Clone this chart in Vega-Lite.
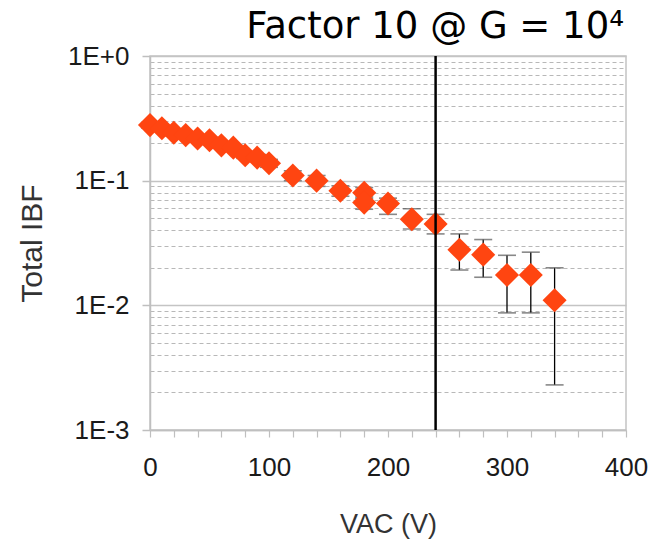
{
  "$schema": "https://vega.github.io/schema/vega-lite/v6.json",
  "width": 476,
  "height": 374,
  "autosize": {"type": "none"},
  "padding": {"left": 150, "top": 56, "right": 39, "bottom": 113},
  "background": "white",
  "title": {
    "text": "Factor 10 @ G = 10⁴",
    "anchor": "end",
    "frame": "group",
    "font": "DejaVu Sans",
    "fontSize": 37,
    "fontWeight": "normal",
    "color": "#000000",
    "baseline": "alphabetic",
    "offset": -32,
    "dx": -2
  },
  "config": {
    "view": {"stroke": "#c4c4c4", "strokeWidth": 1.5},
    "axis": {"labelFont": "Liberation Sans", "titleFont": "Liberation Sans", "labelOverlap": false},
    "axisX": {"labelOverlap": false}
  },
  "datasets": {
    "ibf": [
      {"v": 0, "ibf": 0.279, "lo": 0.265, "hi": 0.293},
      {"v": 10, "ibf": 0.263, "lo": 0.25, "hi": 0.276},
      {"v": 20, "ibf": 0.242, "lo": 0.23, "hi": 0.254},
      {"v": 30, "ibf": 0.232, "lo": 0.22, "hi": 0.244},
      {"v": 40, "ibf": 0.218, "lo": 0.207, "hi": 0.229},
      {"v": 50, "ibf": 0.211, "lo": 0.2, "hi": 0.222},
      {"v": 60, "ibf": 0.192, "lo": 0.182, "hi": 0.202},
      {"v": 70, "ibf": 0.184, "lo": 0.174, "hi": 0.194},
      {"v": 80, "ibf": 0.16, "lo": 0.151, "hi": 0.169},
      {"v": 90, "ibf": 0.153, "lo": 0.144, "hi": 0.162},
      {"v": 100, "ibf": 0.138, "lo": 0.128, "hi": 0.148},
      {"v": 120, "ibf": 0.11, "lo": 0.1, "hi": 0.12},
      {"v": 140, "ibf": 0.1, "lo": 0.09, "hi": 0.11},
      {"v": 160, "ibf": 0.083, "lo": 0.075, "hi": 0.091},
      {"v": 180, "ibf": 0.08, "lo": 0.072, "hi": 0.088},
      {"v": 180, "ibf": 0.0667, "lo": 0.059, "hi": 0.074},
      {"v": 200, "ibf": 0.0655, "lo": 0.0537, "hi": 0.0724},
      {"v": 220, "ibf": 0.049, "lo": 0.041, "hi": 0.0596},
      {"v": 240, "ibf": 0.045, "lo": 0.0374, "hi": 0.0537},
      {"v": 260, "ibf": 0.0279, "lo": 0.0192, "hi": 0.0374},
      {"v": 280, "ibf": 0.0255, "lo": 0.0168, "hi": 0.0337},
      {"v": 300, "ibf": 0.0175, "lo": 0.0087, "hi": 0.0252},
      {"v": 320, "ibf": 0.0175, "lo": 0.0087, "hi": 0.0267},
      {"v": 340, "ibf": 0.011, "lo": 0.0023, "hi": 0.02}
    ],
    "marker": [{"v": 240}]
  },
  "encoding": {
    "x": {
      "field": "v",
      "type": "quantitative",
      "scale": {"domain": [0, 400], "nice": false},
      "axis": {
        "values": [0, 20, 40, 60, 80, 100, 120, 140, 160, 180, 200, 220, 240, 260, 280, 300, 320, 340, 360, 380, 400],
        "labelExpr": "(datum.value == 0 || datum.value == 100 || datum.value == 200 || datum.value == 300 || datum.value == 400) ? datum.label : ''",
        "grid": false,
        "domainColor": "#bfbfbf",
        "domainWidth": 1.5,
        "tickColor": "#bfbfbf",
        "tickWidth": 1.2,
        "tickSize": 7,
        "labelFontSize": 26,
        "labelColor": "#1a1a1a",
        "labelPadding": 17,
        "labelOverlap": false,
        "labelFlush": false,
        "labelBound": false,
        "title": "VAC (V)",
        "titleFontSize": 27,
        "titleFontWeight": "normal",
        "titleColor": "#333333",
        "titlePadding": 31
      }
    }
  },
  "layer": [
    {
      "data": {"name": "ibf"},
      "mark": {"type": "rule", "color": "#000000", "strokeWidth": 1.3},
      "encoding": {
        "y": {
          "field": "lo",
          "type": "quantitative",
          "scale": {"type": "log", "domain": [0.001, 1], "nice": false},
          "axis": {
            "values": [0.001, 0.002, 0.003, 0.004, 0.005, 0.006, 0.007, 0.008, 0.009, 0.01, 0.02, 0.03, 0.04, 0.05, 0.06, 0.07, 0.08, 0.09, 0.1, 0.2, 0.3, 0.4, 0.5, 0.6, 0.7, 0.8, 0.9, 1],
            "labelExpr": "datum.value == 1 ? '1E+0' : datum.value == 0.1 ? '1E-1' : datum.value == 0.01 ? '1E-2' : datum.value == 0.001 ? '1E-3' : ''",
            "grid": true,
            "gridColor": {"condition": {"test": "datum.value == 1 || datum.value == 0.1 || datum.value == 0.01 || datum.value == 0.001", "value": "#c4c4c4"}, "value": "#b8b8b8"},
            "gridDash": {"condition": {"test": "datum.value == 1 || datum.value == 0.1 || datum.value == 0.01 || datum.value == 0.001", "value": []}, "value": [4, 3]},
            "gridWidth": {"condition": {"test": "datum.value == 1 || datum.value == 0.1 || datum.value == 0.01 || datum.value == 0.001", "value": 1.5}, "value": 1},
            "tickSize": {"condition": {"test": "datum.value == 1 || datum.value == 0.1 || datum.value == 0.01 || datum.value == 0.001", "value": 8}, "value": 0},
            "tickColor": "#bfbfbf",
            "tickWidth": 1.5,
            "domainColor": "#bfbfbf",
            "domainWidth": 1.5,
            "labelFontSize": 26,
            "labelColor": "#1a1a1a",
            "labelPadding": 13,
            "labelOverlap": false,
            "labelFlush": false,
            "title": "Total IBF",
            "titleFontSize": 30,
            "titleFontWeight": "normal",
            "titleColor": "#333333",
            "titlePadding": 20
          }
        },
        "y2": {"field": "hi"}
      }
    },
    {
      "data": {"name": "ibf"},
      "mark": {"type": "tick", "orient": "horizontal", "size": 18, "thickness": 1.6, "color": "#555555"},
      "encoding": {
        "y": {"field": "lo", "type": "quantitative"}
      }
    },
    {
      "data": {"name": "ibf"},
      "mark": {"type": "tick", "orient": "horizontal", "size": 18, "thickness": 1.6, "color": "#555555"},
      "encoding": {
        "y": {"field": "hi", "type": "quantitative"}
      }
    },
    {
      "data": {"name": "ibf"},
      "mark": {"type": "point", "shape": "diamond", "filled": true, "size": 580, "color": "#ff4511", "opacity": 1},
      "encoding": {
        "y": {"field": "ibf", "type": "quantitative"}
      }
    },
    {
      "data": {"name": "marker"},
      "mark": {"type": "rule", "color": "#000000", "strokeWidth": 2.5},
      "encoding": {}
    }
  ]
}
